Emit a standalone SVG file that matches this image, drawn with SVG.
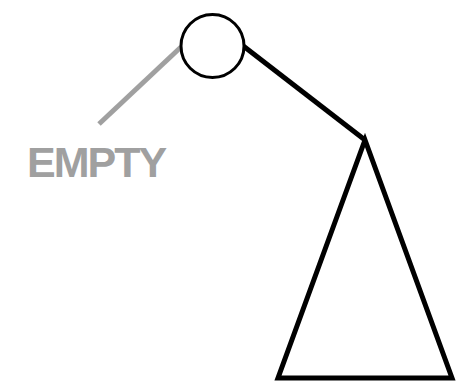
<svg xmlns="http://www.w3.org/2000/svg" width="469" height="382" viewBox="0 0 469 382">
<style>
.edge{stroke:#000;stroke-width:5;fill:none}
.empty{stroke:#a0a0a0;stroke-width:5;fill:none}
.lbl{font-family:"Liberation Sans",Arial,sans-serif;font-weight:bold;fill:#a0a0a0}
</style>
<rect width="469" height="382" fill="#fff"/>
<g id="connectors">
<line class="empty" x1="99" y1="124" x2="181" y2="47"/>
<line class="edge" x1="242" y1="45" x2="365" y2="140"/>
</g>
<g id="root">
<circle cx="212.5" cy="46" r="31.5" fill="#fff" stroke="#000" stroke-width="3"/>
</g>
<g id="subtree">
<polygon class="edge" points="365,140 278,378 452,378" stroke-linejoin="miter"/>
</g>
<g id="empty">
<text class="lbl" x="27" y="177" font-size="43" letter-spacing="-2">EMPTY</text>
</g>
</svg>
